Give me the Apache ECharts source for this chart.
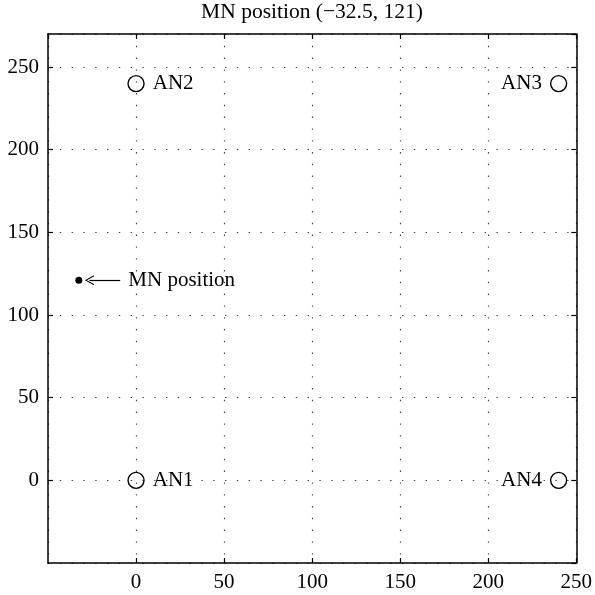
<!DOCTYPE html>
<html>
<head>
<meta charset="utf-8">
<script src="https://cdn.jsdelivr.net/npm/echarts@6/dist/echarts.min.js"></script>
<style>html,body{margin:0;padding:0;background:#fff;}#c{width:595px;height:595px;}</style>
</head>
<body>
<div id="c"></div>
<script>
// ---- data ----
const anchorNames = ['AN1', 'AN2', 'AN3', 'AN4'];
const anchorX = [0, 0, 240, 240];
const anchorY = [0, 240, 240, 0];
const mnName = 'MN position';
const mnX = [-32.5];
const mnY = [121];
const arrowStart = [-9, 121];
const arrowEnd = [-26.5, 121];
const xLimits = [-50, 250];
const yLimits = [-50, 270];
const tickStep = 50;
const titleText = 'MN position (\u221232.5, 121)';

const FONT = '"Liberation Serif", "Times New Roman", serif';
const FS = 21;

const chart = echarts.init(document.getElementById('c'), null, {renderer: 'canvas'});

const anchorData = anchorNames.map((n, i) => ({
  name: n,
  value: [anchorX[i], anchorY[i]],
  label: {position: anchorX[i] > (xLimits[0] + xLimits[1]) / 2 ? 'left' : 'right'}
}));

const gridLine = {show: true, lineStyle: {color: '#444', width: 1.2, type: [1.4, 10.4]}};
const axLine = {show: true, onZero: false, lineStyle: {color: '#000', width: 1.5}};
const tick = {show: true, inside: true, length: 5, lineStyle: {color: '#000', width: 1.2}};

chart.setOption({
  animation: false,
  backgroundColor: '#fff',
  grid: {left: 48, right: 17, top: 34, bottom: 32, containLabel: false},
  graphic: [{
    type: 'text', x: 312, y: 12,
    style: {text: titleText, align: 'center', verticalAlign: 'middle', font: '21.5px ' + FONT, fill: '#000'}
  }],
  xAxis: [{
    type: 'value', min: xLimits[0], max: xLimits[1], interval: tickStep, position: 'bottom',
    axisLine: axLine, axisTick: tick,
    axisLabel: {showMinLabel: false, fontFamily: FONT, fontSize: FS, color: '#000', margin: 9},
    splitLine: gridLine
  }, {
    type: 'value', min: xLimits[0], max: xLimits[1], interval: tickStep, position: 'top',
    axisLine: axLine, axisTick: tick, axisLabel: {show: false}, splitLine: {show: false}
  }],
  yAxis: [{
    type: 'value', min: yLimits[0], max: yLimits[1], interval: tickStep, position: 'left',
    axisLine: axLine, axisTick: tick,
    axisLabel: {showMinLabel: false, showMaxLabel: false, fontFamily: FONT, fontSize: FS, color: '#000', margin: 9},
    splitLine: gridLine
  }, {
    type: 'value', min: yLimits[0], max: yLimits[1], interval: tickStep, position: 'right',
    axisLine: axLine, axisTick: tick, axisLabel: {show: false}, splitLine: {show: false}
  }],
  series: [{
    type: 'scatter',
    xAxisIndex: 0, yAxisIndex: 0,
    symbol: 'circle', symbolSize: 16,
    itemStyle: {color: 'rgba(0,0,0,0)', borderColor: '#000', borderWidth: 1.4, opacity: 1},
    label: {show: true, formatter: '{b}', fontFamily: FONT, fontSize: FS, color: '#000', distance: 8},
    emphasis: {disabled: true},
    data: anchorData
  }, {
    type: 'scatter',
    xAxisIndex: 0, yAxisIndex: 0,
    symbol: 'circle', symbolSize: 7,
    itemStyle: {color: '#000', opacity: 1},
    label: {show: true, position: 'right', distance: 46, formatter: mnName, fontFamily: FONT, fontSize: FS, color: '#000'},
    emphasis: {disabled: true},
    data: mnX.map((x, i) => ({name: mnName, value: [x, mnY[i]]})),
    markLine: {
      silent: true, animation: false,
      symbol: ['none', 'path://M5,0 L10,10 L8.8,10 L5,2.2 L1.2,10 L0,10 Z'],
      symbolSize: [10, 9],
      lineStyle: {color: '#000', width: 1.2, type: 'solid', opacity: 1},
      label: {show: false},
      emphasis: {disabled: true},
      data: [[{coord: arrowStart}, {coord: arrowEnd}]]
    }
  }]
});
</script>
</body>
</html>
